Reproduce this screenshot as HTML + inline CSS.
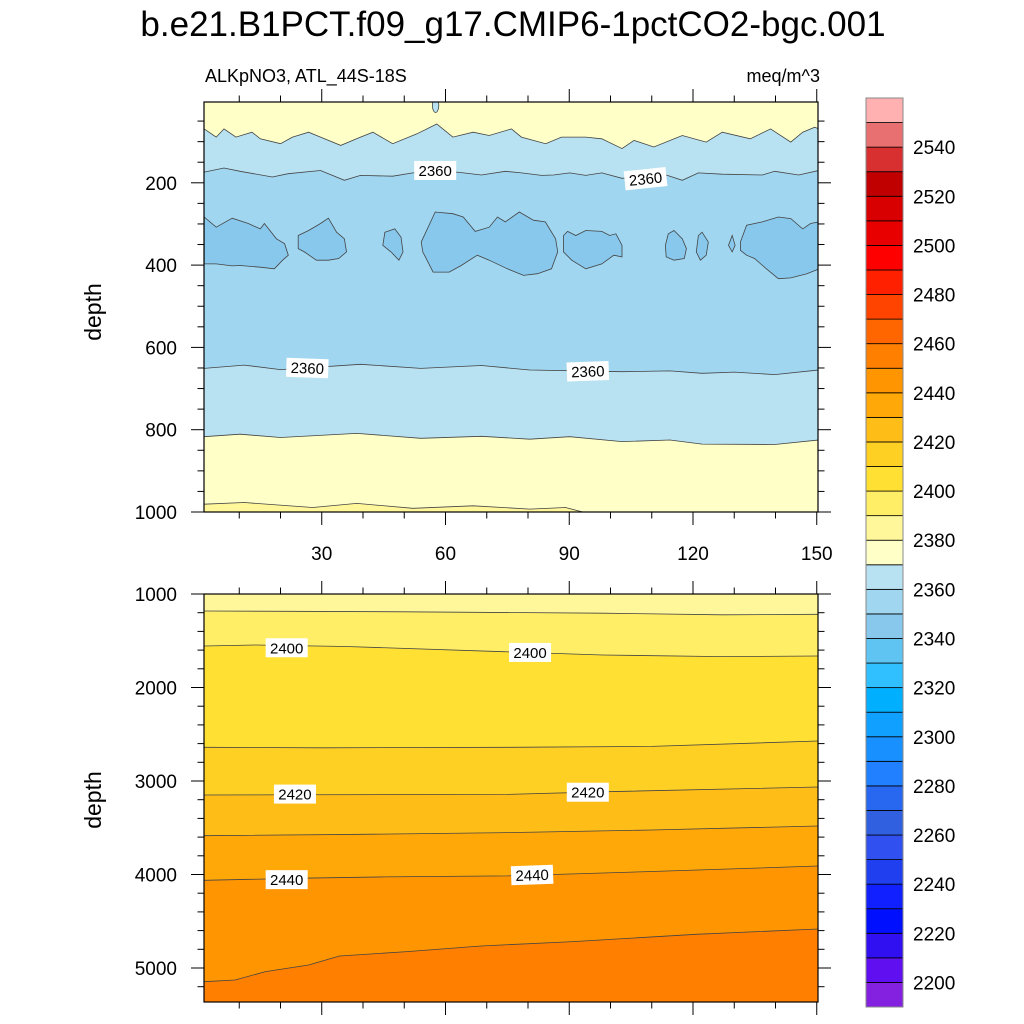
<!DOCTYPE html>
<html><head><meta charset="utf-8"><style>
html,body{margin:0;padding:0;background:#fff}
svg{display:block;font-family:"Liberation Sans",sans-serif}
</style></head><body>
<svg id="chart" width="1024" height="1024" viewBox="0 0 1024 1024">
<text x="513" y="36" text-anchor="middle" font-size="35">b.e21.B1PCT.f09_g17.CMIP6-1pctCO2-bgc.001</text>
<text x="205" y="82" font-size="18">ALKpNO3, ATL_44S-18S</text>
<text x="820" y="82" font-size="18" text-anchor="end">meq/m^3</text>
<text transform="translate(101,312) rotate(-90)" text-anchor="middle" font-size="23">depth</text>
<text transform="translate(101,800) rotate(-90)" text-anchor="middle" font-size="23">depth</text>
<defs>
<clipPath id="clipTop"><rect x="204" y="102" width="614" height="410"/></clipPath>
<clipPath id="clipBot"><rect x="204" y="594" width="614" height="408"/></clipPath>
</defs>
<g id="top" clip-path="url(#clipTop)"></g>
<g id="bot" clip-path="url(#clipBot)"></g>
<g id="axes"></g>
<g id="labels"></g>
<g id="cbar"></g>
</svg>
<script>
// ---- data (year, depth pairs) ----
const topLine2370a = [[1.5,69],[4.4,89],[6.3,69],[9.2,89],[13.1,77],[15.1,93],[20,105],[22.9,89],[26.8,77],[29.7,89],[34.6,109],[39.4,89],[42.4,77],[47.2,105],[53.1,81],[57.9,57],[61.8,89],[66.7,77],[70.6,85],[76,69],[78.4,89],[84.3,105],[88.1,89],[94,89],[97.9,93],[102.8,117],[105.7,97],[110.5,113],[117.4,85],[123.2,101],[127.1,77],[133.9,93],[138.8,69],[143.7,101],[146.6,77],[149.5,65],[150.5,69]];
const topLine2360a = [[1.5,174],[6.3,164],[10.2,172],[18,186],[21.9,178],[29.7,170],[35.5,194],[39.4,182],[47.2,184],[52.1,176],[62.8,174],[68.7,181],[74.5,172],[78.4,176],[83.3,182],[86.2,181],[90.1,176],[94,182],[97.9,176],[102.8,189],[113.5,181],[117.4,194],[121.3,176],[127.1,179],[136.8,181],[139.8,172],[145.6,181],[150.5,170]];
const topLine2360b = [[1.5,651],[11.2,643],[20,654],[39.4,641],[54,651],[68.7,644],[80.4,655],[102.8,659],[114.4,657],[122.2,663],[130,660],[139.8,666],[150.5,655]];
const topLine2370b = [[1.5,817],[10.2,811],[20,819],[38.5,809],[54,821],[68.7,816],[80.4,823],[90.1,817],[102.8,829],[114.4,825],[122.2,835],[139.8,836],[150.5,825]];
const topLine2380 = [[1.5,981],[11.2,977],[27.8,989],[38.5,979],[52.1,991],[66.7,985],[80.4,993],[89.1,989],[94,1002]];
const blobs2340 = [
[[1.5,283],[4.4,308],[8.3,286],[12.2,299],[15.1,312],[16.1,299],[19,336],[21,348],[21.9,376],[20.5,388],[18.5,409],[15.1,405],[10.2,401],[8.3,402],[4.4,397],[1.5,397]],
[[24.3,328],[26.8,316],[29.7,299],[31.6,286],[33.6,320],[35.5,336],[36,368],[34.1,384],[31.6,388],[28.7,388],[25.8,368],[24.3,360]],
[[45.3,320],[47.7,312],[49.2,332],[49.7,368],[48.7,388],[46.8,368],[44.8,352]],
[[54.1,344],[57.5,271],[61.8,275],[64.3,283],[67.2,318],[70.6,308],[72.6,283],[74.5,295],[77.9,271],[81.3,291],[84.2,295],[86.7,336],[87.2,368],[85.7,409],[82.3,421],[78.9,425],[75,409],[70.6,388],[67.7,376],[63.8,401],[60.9,417],[57,417],[54.5,368]],
[[88.6,328],[89.6,318],[91.6,328],[94,316],[97.9,318],[99.8,328],[101.3,324],[102.8,352],[102.8,380],[100.8,376],[97.9,397],[94,409],[90.6,388],[88.6,368]],
[[114,324],[115.4,316],[117.4,336],[118.4,360],[117.9,384],[115.4,388],[113.5,380],[113.3,352]],
[[121.3,328],[122.2,320],[123.7,344],[123.2,376],[121.8,388],[120.8,368]],
[[128.6,352],[129.5,328],[130.2,352],[129.5,368]],
[[131.5,344],[133,303],[136.8,295],[140.7,283],[143.7,287],[146.6,312],[148.5,299],[150.5,295],[150.6,409],[147.6,421],[143.7,431],[140.7,433],[137.8,409],[134.9,384],[133,376],[131.5,364]]
];
const botLine2390 = [[1.5,1182],[50,1190],[98,1205],[127,1222],[150.5,1217]];
const botLine2400 = [[1.5,1556],[14,1545],[36,1561],[74,1617],[98,1652],[127,1670],[150.5,1663]];
const botLine2410 = [[1.5,2640],[30,2645],[75,2640],[110,2630],[150.5,2572]];
const botLine2420 = [[1.5,3150],[75,3143],[98,3115],[150.5,3064]];
const botLine2430 = [[1.5,3585],[40,3570],[75,3552],[110,3524],[150.5,3481]];
const botLine2440 = [[1.5,4062],[25,4040],[45,4026],[75,4015],[110,3968],[150.5,3909]];
const botLine2450 = [[1.5,5146],[9,5128],[16.4,5039],[26.8,4968],[34.3,4872],[50.7,4825],[68.6,4765],[90.9,4718],[120.7,4640],[150.5,4583]];
const cbarLevels = [2190,2200,2210,2220,2230,2240,2250,2260,2270,2280,2290,2300,2310,2320,2330,2340,2350,2360,2370,2380,2390,2400,2410,2420,2430,2440,2450,2460,2470,2480,2490,2500,2510,2520,2530,2540,2550];
const cbarColors = ["#8420E0","#6010F0","#3010F0","#0010FF","#1020FF","#2040F0","#3050F0","#3060E0","#2868F0","#2080FF","#1890FF","#10A0FF","#00B0FF","#30C0FF","#60C4F2","#88C8EC","#A0D6F0","#B8E2F2","#FFFFC8","#FFF79A","#FFEE66","#FFE033","#FFD024","#FFBD18","#FFA808","#FF9500","#FF7F00","#FF6600","#FF4400","#FF2000","#FF0000","#E80000","#D80000","#C00000","#D83030","#E87070","#FFB0B0"];
const cbarTicks = [2200,2220,2240,2260,2280,2300,2320,2340,2360,2380,2400,2420,2440,2460,2480,2500,2520,2540];
const topDepthTicks = [200,400,600,800,1000];
const botDepthTicks = [1000,2000,3000,4000,5000];
const yearTicks = [30,60,90,120,150];

// ---- scales ----
const X = t => 198 + 4.125*t;
const Yt = d => 100.5 + 0.4115*d;
const Yb = d => 594 + 0.0935*(d-1000);
const NS = "http://www.w3.org/2000/svg";
function mk(tag, attrs, parent){const e=document.createElementNS(NS,tag);for(const k in attrs)e.setAttribute(k,attrs[k]);parent.appendChild(e);return e;}
const pts = (arr,Y) => arr.map(p=>X(p[0]).toFixed(1)+","+Y(p[1]).toFixed(1)).join(" ");
const gTop=document.getElementById("top"), gBot=document.getElementById("bot"), gAx=document.getElementById("axes"), gLab=document.getElementById("labels"), gCb=document.getElementById("cbar");

function bandBelow(g, line, Y, bottomDepth, color, name){
  const p = pts(line,Y) + " " + X(line[line.length-1][0]+5)+","+Y(line[line.length-1][1]) + " " + X(line[line.length-1][0]+5)+","+Y(bottomDepth) + " " + X(line[0][0]-5)+","+Y(bottomDepth)+" "+X(line[0][0]-5)+","+Y(line[0][1]);
  const e = mk("polygon",{points:p,fill:color},g);
  
  
}
function stroke(g, line, Y, name){
  const e = mk("polyline",{points:pts(line,Y),fill:"none",stroke:"#444","stroke-width":"0.8"},g);
  
  
}

// top panel
let r = mk("rect",{x:200,y:98,width:625,height:420,fill:"#FFFFC8"},gTop);


bandBelow(gTop, topLine2370a, Yt, 1100, "#B8E2F2", "band-2360-upper");
bandBelow(gTop, topLine2360a, Yt, 1100, "#A0D6F0", "band-2350");
bandBelow(gTop, topLine2360b, Yt, 1100, "#B8E2F2", "band-2360-lower");
bandBelow(gTop, topLine2370b, Yt, 1100, "#FFFFC8", "band-2370-lower");
{
  const p = pts(topLine2380,Yt) + " " + X(0)+","+Yt(1100);
  const e = mk("polygon",{points:p + " " + X(0)+","+Yt(topLine2380[0][1]),fill:"#FFF79A"},gTop);
  
  
}
blobs2340.forEach((b,i)=>{
  const e = mk("polygon",{points:pts(b,Yt),fill:"#88C8EC",stroke:"#444","stroke-width":"0.8"},gTop);
  
  
});
{
  const e = mk("ellipse",{cx:X(57.6),cy:Yt(12),rx:3.2,ry:7,fill:"#B8E2F2",stroke:"#444","stroke-width":"0.8"},gTop);
  
  
}
stroke(gTop, topLine2370a, Yt, "contour-2370-upper");
stroke(gTop, topLine2360a, Yt, "contour-2360-upper");
stroke(gTop, topLine2360b, Yt, "contour-2360-lower");
stroke(gTop, topLine2370b, Yt, "contour-2370-lower");
stroke(gTop, topLine2380, Yt, "contour-2380");

// bottom panel
r = mk("rect",{x:200,y:590,width:625,height:420,fill:"#FFF79A"},gBot);


const botLines=[botLine2390,botLine2400,botLine2410,botLine2420,botLine2430,botLine2440,botLine2450];
const botCols=["#FFEE66","#FFE033","#FFD024","#FFBD18","#FFA808","#FF9500","#FF7F00"];
const botNames=["2390","2400","2410","2420","2430","2440","2450"];
botLines.forEach((l,i)=>bandBelow(gBot,l,Yb,6000,botCols[i],"band-"+botNames[i]));
botLines.forEach((l,i)=>stroke(gBot,l,Yb,"contour-"+botNames[i]));

// frames & ticks
function frame(y0,y1,name){
  const e=mk("rect",{x:204,y:y0,width:614,height:y1-y0,fill:"none",stroke:"#000","stroke-width":"1.2"},gAx);
  
  
}
frame(102,512,"upper-panel-frame");
frame(594,1002,"lower-panel-frame");
function tick(x1,y1,x2,y2){mk("line",{x1,y1,x2,y2,stroke:"#000","stroke-width":"1"},gAx);}
[[102,512],[594,1002]].forEach(([y0,y1])=>{
  for(let t=10;t<=150;t+=10){
    const x=X(t), L=(t%30===0)?13:6.5;
    tick(x,y0,x,y0-L); tick(x,y1,x,y1+L);
  }
});
for(let d=50;d<=1000;d+=50){
  const y=Yt(d); if(y<102||y>512.5) continue;
  const L=(d%200===0)?13:6.5;
  tick(204,y,204-L,y); tick(818,y,818+L,y);
}
for(let d=1000;d<=5400;d+=200){
  const y=Yb(d); if(y<593||y>1002) continue;
  const L=(d%1000===0)?13:6.5;
  tick(204,y,204-L,y); tick(818,y,818+L,y);
}
topDepthTicks.forEach(d=>{
  const e=mk("text",{x:177,y:Yt(d)+7,"text-anchor":"end","font-size":"19"},gAx);
  e.textContent=d;
  
  
});
botDepthTicks.forEach(d=>{
  const e=mk("text",{x:177,y:Yb(d)+7,"text-anchor":"end","font-size":"19"},gAx);
  e.textContent=d;
  
  
});
yearTicks.forEach(t=>{
  const e=mk("text",{x:X(t),y:560,"text-anchor":"middle","font-size":"19"},gAx);
  e.textContent=t;
  
  
});

// contour labels [year, depth, text, panel, angle]
const contourLabels=[[57.5,170,"2360","t",0],[108.5,190,"2360","t",-6],[26.5,650,"2360","t",2],[94.5,658,"2360","t",-2],
 [21.5,1575,"2400","b",0],[80.5,1625,"2400","b",0],[23.5,3140,"2420","b",0],[94.5,3120,"2420","b",0],[21.5,4055,"2440","b",0],[81,4005,"2440","b",-2]];
contourLabels.forEach(c=>{
  const x=X(c[0]), y=(c[3]==="t"?Yt:Yb)(c[1]);
  const g=mk("g",{transform:`translate(${x},${y}) rotate(${c[4]})`},gLab);
  
  
  mk("rect",{x:-21,y:-9.5,width:42,height:19,fill:"#fff"},g);
  const t=mk("text",{x:0,y:5.5,"text-anchor":"middle","font-size":"15"},g);
  t.textContent=c[2];
});

// colorbar
const cbTop=98, cbBot=1007, cbX=866, cbW=37;
const boxH=(cbBot-cbTop)/cbarLevels.length;
const cbY = v => cbBot - (v-2190)/10*boxH;
cbarLevels.forEach((v,i)=>{
  const e=mk("rect",{x:cbX,y:cbY(v+10),width:cbW,height:boxH,fill:cbarColors[i],stroke:"#000","stroke-width":"0.8"},gCb);
  
  
});
mk("rect",{x:cbX,y:cbTop,width:cbW,height:cbBot-cbTop,fill:"none",stroke:"#888","stroke-width":"1"},gCb);
cbarTicks.forEach(v=>{
  const e=mk("text",{x:913,y:cbY(v)+7,"font-size":"19"},gCb);
  e.textContent=v;
  
  
});
</script>
</body></html>
